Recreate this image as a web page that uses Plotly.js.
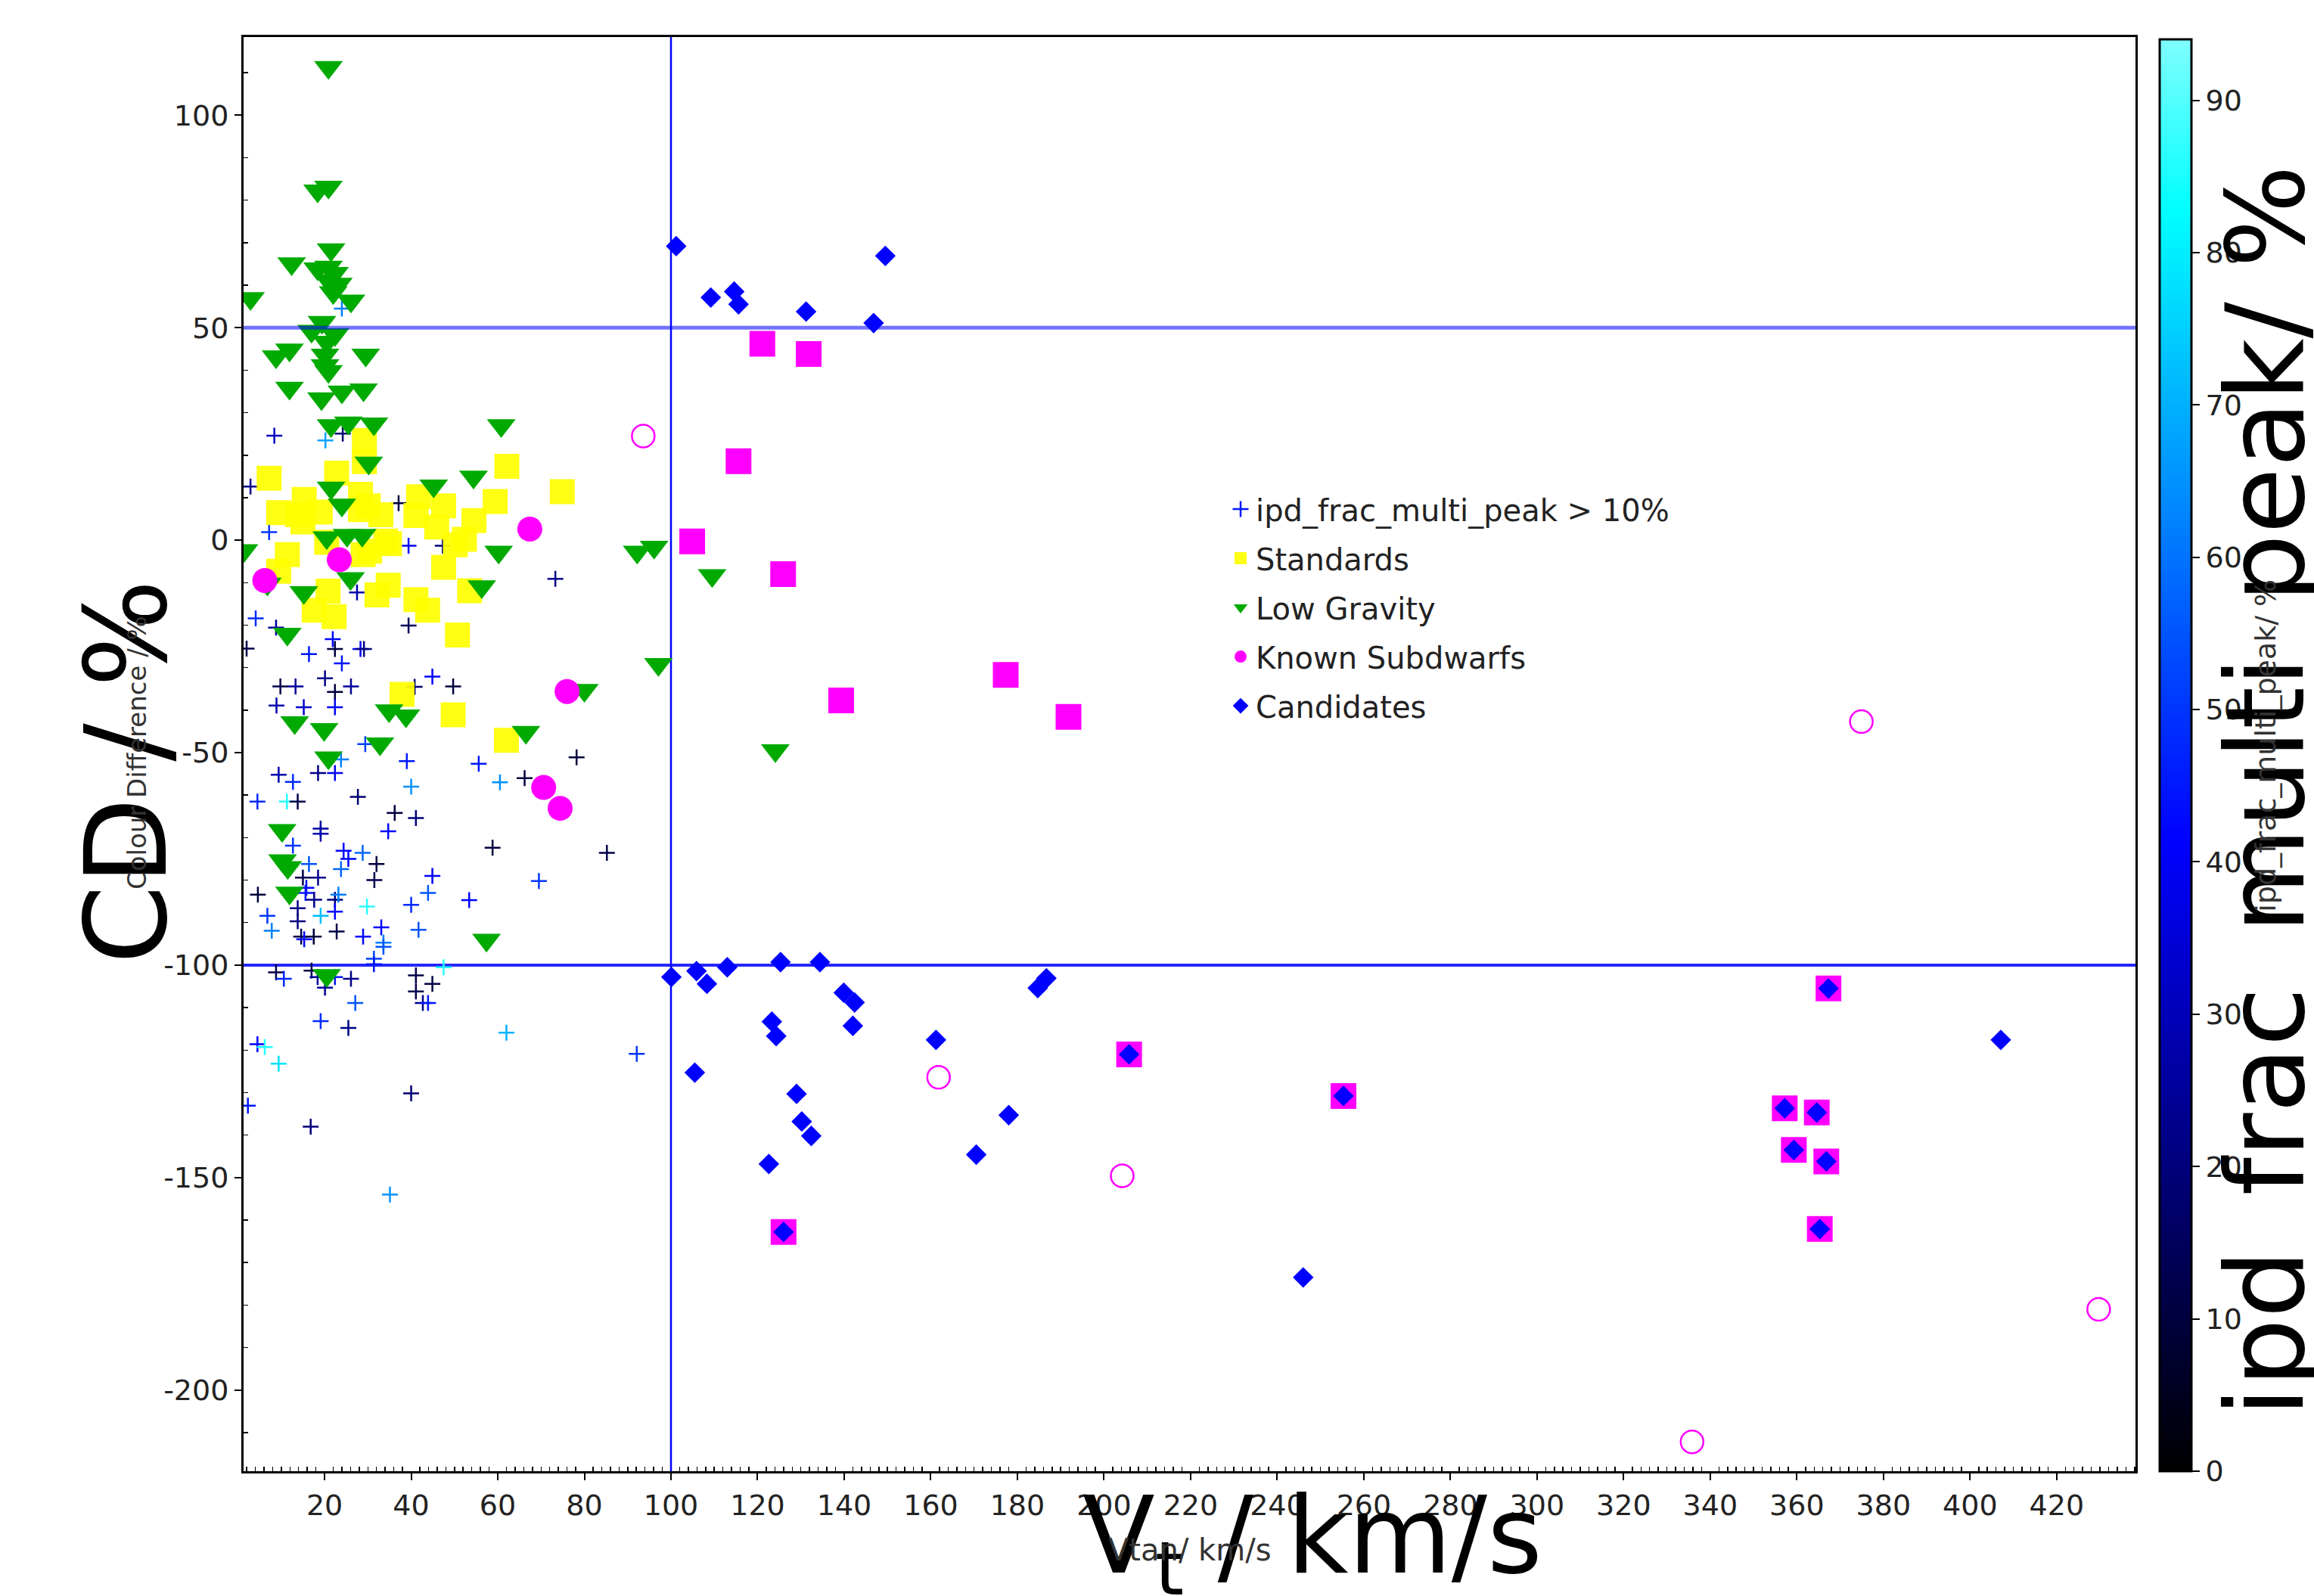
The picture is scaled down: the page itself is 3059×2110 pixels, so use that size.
<!DOCTYPE html>
<html><head><meta charset="utf-8">
<script src="https://cdn.plot.ly/plotly-3.0.1.min.js"></script>
<style>html,body{margin:0;padding:0;background:#fff}#chart{width:3059px;height:2110px}</style>
</head><body><div id="chart"></div>
<script>
// ---- ipd_frac_multi_peak > 10% (crosses, coloured by ipd_frac_multi_peak %) ----
const ipdVtan = [22.4,8.4,20.2,24.2,24.0,2.9,37.1,7.2,39.4,47.3,73.3,4.1,8.8,27.5,39.4,21.9,22.4,16.4,24.0,28.3,29.1,9.8,13.3,20.1,22.4,26.1,44.9,49.7,40.8,8.9,15.2,22.4,29.4,23.8,39.0,55.6,78.2,9.4,12.7,18.5,22.4,40.0,60.5,66.2,4.5,11.3,13.8,27.7,36.2,41.1,34.7,19.1,19.1,58.8,85.2,12.7,24.4,25.5,28.8,16.4,23.8,32.0,15.0,18.5,31.5,44.9,69.5,4.6,15.8,15.6,17.6,22.4,23.2,43.9,40.0,53.4,6.8,13.8,13.8,19.1,22.4,29.8,7.8,14.6,17.5,15.3,22.8,28.9,33.1,33.6,33.6,41.7,31.4,47.5,8.8,10.6,17.0,18.4,20.1,26.1,31.4,41.1,41.1,44.9,42.7,43.9,27.1,19.1,25.5,62.0,92.1,4.5,6.2,9.4,2.3,40.0,16.8,35.1,2.0];
const ipdCD   = [-102.8,24.6,23.5,25.1,54.5,12.6,8.7,1.9,-1.3,-1.3,-9.1,-18.4,-20.6,-12.3,-20.1,-23.3,-25.6,-26.8,-29.0,-25.6,-25.6,-34.4,-34.4,-32.5,-35.7,-34.4,-32.1,-34.4,-34.5,-38.9,-39.3,-39.3,-48.0,-51.6,-52.0,-52.6,-51.1,-55.2,-56.9,-54.8,-54.8,-58.0,-57.0,-56.0,-61.5,-61.5,-61.5,-60.4,-64.2,-65.4,-68.5,-67.9,-69.1,-72.4,-73.6,-71.9,-73.1,-75.0,-73.6,-76.2,-77.4,-76.2,-79.4,-79.4,-80.0,-79.0,-80.2,-83.4,-81.8,-83.0,-84.6,-84.6,-83.4,-83.0,-85.8,-84.7,-88.4,-86.6,-89.7,-88.4,-87.4,-86.2,-91.9,-93.3,-93.3,-93.9,-92.1,-93.3,-91.1,-94.7,-95.7,-91.7,-98.5,-100.5,-101.7,-103.2,-101.3,-102.8,-105.3,-103.2,-99.8,-102.4,-106.2,-104.4,-108.9,-108.9,-108.9,-113.2,-114.8,-115.9,-120.9,-118.6,-119.3,-123.2,-133.1,-130.2,-138.0,-154.0,-25.5];
const ipdFrac = [45,31,68,18,62,22,10,50,42,20,22,48,25,28,15,42,10,45,45,40,20,12,25,22,10,25,42,10,18,28,33,42,52,62,45,45,10,28,48,22,40,65,65,10,48,86,12,18,10,20,42,25,28,10,12,50,42,42,58,55,58,10,12,22,12,40,50,10,42,45,22,20,62,55,48,42,50,22,20,72,42,86,62,12,10,42,12,42,42,62,55,55,52,86,12,48,12,25,25,22,45,12,12,10,22,45,55,48,22,70,50,42,86,78,45,18,20,65,12];

// ---- Standards ----
const stdVtan = [7.2,29.2,29.2,22.8,62.1,74.9,9.4,15.3,13.8,15.0,19.0,28.3,30.1,28.3,33.0,41.7,41.1,47.5,45.9,54.5,59.4,50.2,52.3,47.5,34.1,35.0,28.9,20.5,11.4,9.4,20.8,17.6,22.2,32.1,34.7,41.1,43.8,53.5,50.7,37.9,49.7,62.0,30.4];
const stdCD   = [14.6,23.5,18.5,15.8,17.4,11.4,6.5,9.6,6.0,4.3,6.6,10.8,8.1,7.2,6.0,10.2,5.8,8.1,3.1,4.6,9.1,-1.1,0.2,-6.4,-0.2,-0.8,-3.4,-0.5,-3.4,-7.3,-12.0,-16.5,-18.0,-12.9,-10.6,-14.0,-16.5,-11.9,-22.3,-36.3,-41.1,-47.1,-2.6];

// ---- Low Gravity ----
const lgVtan = [20.9,20.9,18.4,21.5,12.4,18.4,20.9,22.3,20.9,23.2,22.0,26.1,2.9,19.4,17.0,22.4,20.5,11.9,8.8,29.5,20.1,20.1,20.9,11.9,19.3,24.0,29.0,21.5,25.5,31.4,60.8,30.2,54.4,45.2,21.5,24.0,20.5,25.2,28.7,1.4,60.2,92.2,96.1,109.5,26.0,6.8,15.2,56.3,11.4,97.1,80.0,34.9,38.8,13.1,19.9,66.5,32.8,20.9,124.1,10.2,10.3,11.5,11.9,57.4,20.5];
const lgCD   = [111.3,83.1,82.2,68.4,65.1,63.9,64.3,62.8,61.1,60.3,58.3,56.3,56.9,51.3,49.2,48.4,46.6,44.8,43.2,43.6,43.6,41.1,39.7,35.8,33.3,34.9,35.4,27.0,27.6,27.4,27.0,18.2,14.9,12.8,12.3,8.3,0.6,1.2,1.2,-2.4,-2.8,-2.8,-1.6,-8.3,-9.0,-10.3,-12.3,-10.9,-22.1,-29.2,-35.3,-40.1,-41.3,-42.9,-44.5,-45.2,-47.9,-51.2,-49.5,-68.3,-75.4,-77.0,-83.0,-94.1,-102.4];

// ---- Known Subdwarfs ----
const ksdVtan = [67.4,23.4,6.2,76.0,70.6,74.4];
const ksdCD   = [2.6,-4.6,-9.5,-35.6,-58.2,-63.1];
// known subdwarfs drawn as squares
const ksqVtan = [121.1,131.8,115.6,104.9,125.9,139.3,177.3,191.8,205.8,255.3,126.0,367.3,357.2,364.6,359.3,366.8,365.3];
const ksqCD   = [46.2,43.8,18.6,-0.3,-8.0,-37.7,-31.7,-41.6,-121.0,-130.8,-162.8,-105.5,-133.7,-134.7,-143.5,-146.2,-162.1];
// known subdwarfs drawn as open circles
const kopVtan = [93.6,161.8,204.2,374.9,429.7,335.8];
const kopCD   = [24.5,-126.4,-149.6,-42.7,-181.0,-212.2];

// ---- Candidates ----
const candVtan = [101.2,109.2,114.6,115.6,131.2,146.8,149.5,100.1,105.9,108.3,113.0,125.3,134.4,139.9,142.4,123.3,124.3,142.0,161.2,105.5,129.0,130.2,132.4,122.6,178.0,170.5,184.7,186.7,205.8,255.3,126.0,246.0,367.3,407.1,357.2,364.6,359.3,366.8,365.3];
const candCD   = [69.2,57.1,58.5,55.5,53.8,51.1,66.9,-102.8,-101.4,-104.4,-100.5,-99.3,-99.3,-106.5,-108.8,-113.3,-116.7,-114.3,-117.6,-125.3,-130.3,-136.8,-140.2,-146.8,-135.3,-144.6,-105.4,-103.1,-121.0,-130.8,-162.8,-173.5,-105.5,-117.6,-133.7,-134.7,-143.5,-146.2,-162.1];

// ---- reference limits and ticks ----
const cdLimits = [50, -100];
const vtanLimits = [100];
const yTickVals = [100, 50, 0, -50, -100, -150, -200];
const yTickText = ['100', '50', '0', '-50', '-100', '-150', '-200'];
const xTickVals = [20,40,60,80,100,120,140,160,180,200,220,240,260,280,300,320,340,360,380,400,420];
const xTickText = xTickVals.map(String);
const cbTickVals = [0,10,20,30,40,50,60,70,80,90];
const cbTickText = cbTickVals.map(String);

const xRange = [1.3, 438.2];
const yRange = [-219.1, 118.4];

const yMinor = [];
for (let v = -210; v <= 110; v += 10) if (v % 50 !== 0) yMinor.push(v);
const xMinor = [];
for (let v = 2; v <= 438; v += 2) if (v % 20 !== 0) xMinor.push(v);

const FONT = 'DejaVu Sans';
const CSCALE = [[0, '#000000'], [0.44, '#0000ff'], [0.88, '#00ffff'], [1, '#80ffff']];

const traces = [
  {
    type: 'scatter', mode: 'markers', name: 'ipd_frac_multi_peak > 10%', legendgroup: 'a',
    x: ipdVtan, y: ipdCD,
    marker: {
      symbol: 'cross-thin', size: 15, color: ipdFrac, cmin: 0, cmax: 94,
      colorscale: CSCALE,
      line: {width: 2.5, color: ipdFrac, colorscale: CSCALE, cmin: 0, cmax: 94},
      showscale: true,
      colorbar: {
        x: (2855 - 322) / 2501, xanchor: 'left', xref: 'paper',
        y: 0, yanchor: 'bottom', len: 1893, lenmode: 'pixels',
        thickness: 42, thicknessmode: 'pixels', xpad: 0, ypad: 0,
        outlinewidth: 3, outlinecolor: '#000',
        ticks: 'outside', ticklen: 10, tickwidth: 2, tickcolor: '#000',
        tickmode: 'array', tickvals: cbTickVals, ticktext: cbTickText,
        tickfont: {family: FONT, size: 38, color: '#222'},
        title: {text: ''}
      }
    }
  },
  {
    type: 'scatter', mode: 'markers', name: 'Standards', legendgroup: 'b',
    x: stdVtan, y: stdCD,
    marker: {symbol: 'square', size: 33, color: '#ffff00', opacity: 0.92, line: {width: 0}}
  },
  {
    type: 'scatter', mode: 'markers', name: 'Low Gravity', legendgroup: 'c',
    x: lgVtan, y: lgCD,
    marker: {symbol: 'triangle-down', size: 33, color: '#00aa00', line: {width: 0}}
  },
  {
    type: 'scatter', mode: 'markers', name: 'Known Subdwarfs', legendgroup: 'd',
    x: ksdVtan, y: ksdCD,
    marker: {symbol: 'circle', size: 33, color: '#ff00ff', line: {width: 0}}
  },
  {
    type: 'scatter', mode: 'markers', name: 'Known Subdwarfs (sq)', showlegend: false,
    x: ksqVtan, y: ksqCD,
    marker: {symbol: 'square', size: 34, color: '#ff00ff', line: {width: 0}}
  },
  {
    type: 'scatter', mode: 'markers', name: 'Known Subdwarfs (open)', showlegend: false,
    x: kopVtan, y: kopCD,
    marker: {symbol: 'circle-open', size: 30, color: '#ff00ff', line: {width: 2.5, color: '#ff00ff'}}
  },
  {
    type: 'scatter', mode: 'markers', name: 'Candidates', legendgroup: 'e',
    x: candVtan, y: candCD,
    marker: {symbol: 'diamond', size: 21, color: '#0000ff', line: {width: 0}}
  }
];

const shapes = [];
cdLimits.forEach((v, i) => shapes.push({
  type: 'line', xref: 'paper', x0: 0, x1: 1, yref: 'y', y0: v, y1: v,
  layer: i === 0 ? 'above' : 'below',
  line: {color: i === 0 ? 'rgba(0,0,255,0.55)' : 'rgba(0,0,255,0.85)', width: i === 0 ? 5 : 4}
}));
vtanLimits.forEach(v => shapes.push({
  type: 'line', yref: 'paper', y0: 0, y1: 1, xref: 'x', x0: v, x1: v, layer: 'below',
  line: {color: '#0000ff', width: 2.5}
}));

const ann = (text, x, y, size, angle, color) => ({
  text, x, y, xref: 'paper', yref: 'paper', xanchor: 'center', yanchor: 'middle',
  showarrow: false, textangle: angle, font: {family: FONT, size, color}
});

const layout = {
  width: 3059, height: 2110,
  paper_bgcolor: '#ffffff', plot_bgcolor: '#ffffff',
  margin: {l: 322, r: 236, t: 49, b: 165, pad: 0},
  showlegend: true,
  legend: {
    x: 0.519, xanchor: 'left', y: 0.688, yanchor: 'top',
    bgcolor: 'rgba(0,0,0,0)', borderwidth: 0, tracegroupgap: 10,
    font: {family: FONT, size: 40, color: '#222'}
  },
  xaxis: {
    range: xRange, autorange: false, automargin: false,
    showgrid: false, zeroline: false,
    showline: true, linewidth: 3, linecolor: '#000', mirror: true,
    tickmode: 'array', tickvals: xTickVals, ticktext: xTickText,
    ticks: 'outside', ticklen: 9, tickwidth: 2, tickcolor: '#000',
    tickfont: {family: FONT, size: 38, color: '#222'},
    minor: {tickmode: 'array', tickvals: xMinor, ticks: 'inside', ticklen: 6, tickwidth: 1.5, tickcolor: '#000', showgrid: false},
    title: {text: ''}
  },
  yaxis: {
    range: yRange, autorange: false, automargin: false,
    showgrid: false, zeroline: false,
    showline: true, linewidth: 3, linecolor: '#000', mirror: true,
    tickmode: 'array', tickvals: yTickVals, ticktext: yTickText,
    ticks: 'outside', ticklen: 9, tickwidth: 2, tickcolor: '#000',
    tickfont: {family: FONT, size: 38, color: '#222'},
    minor: {tickmode: 'array', tickvals: yMinor, ticks: 'inside', ticklen: 6, tickwidth: 1.5, tickcolor: '#000', showgrid: false},
    title: {text: ''}
  },
  shapes: shapes,
  annotations: [
    ann('V<sub>t</sub> / km/s', 0.565, -0.050, 140, 0, '#000'),
    ann('Vtan/ km/s', 0.5, -0.055, 40, 0, '#333'),
    ann('CD / %', -0.062, 0.488, 150, -90, '#000'),
    ann('Colour Difference / %', -0.0564, 0.501, 34, -90, '#333'),
    ann('ipd_frac_multi_peak/ %', 1.0688, 0.474, 143, -90, '#000'),
    ann('ipd_frac_multi_peak/ %', 1.0688, 0.506, 38, -90, '#333')
  ]
};

Plotly.newPlot('chart', traces, layout, {displayModeBar: false, staticPlot: true});
</script>
</body></html>
